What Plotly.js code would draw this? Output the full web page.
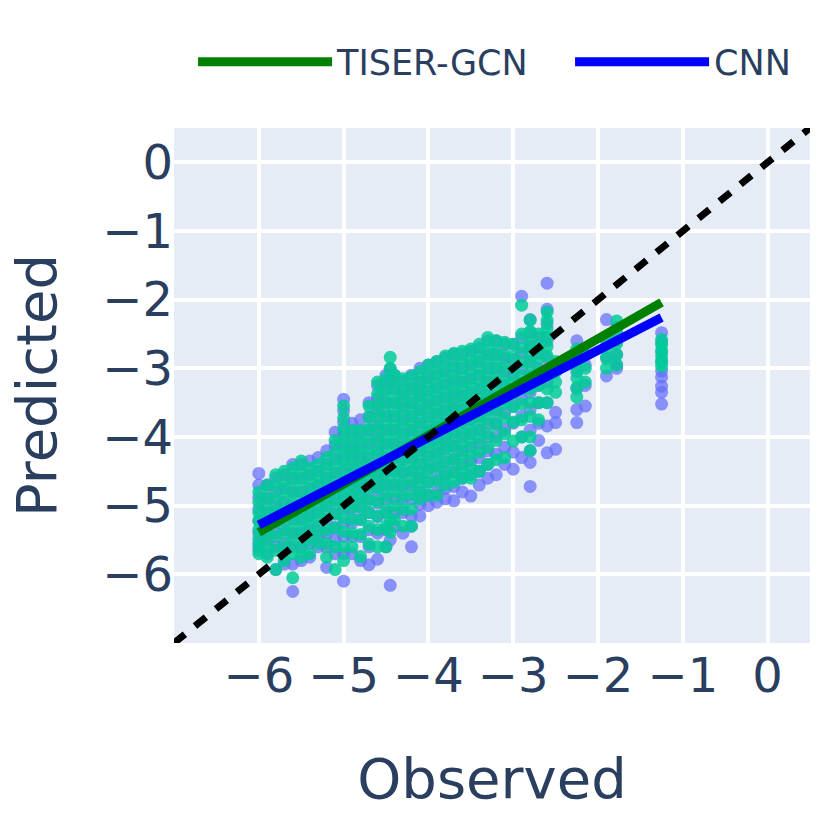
<!DOCTYPE html>
<html>
<head>
<meta charset="utf-8">
<script src="https://cdn.plot.ly/plotly-3.0.1.min.js"></script>
<style>
html,body{margin:0;padding:0;background:#ffffff;}
#chart{width:831px;height:831px;}
</style>
</head>
<body>
<div id="chart"></div>
<script>
// Observed values (x) of the columns of points
const observedCols = [-6.0, -5.9, -5.8, -5.7, -5.6, -5.5, -5.4, -5.3, -5.2, -5.1,
  -5.0, -4.9, -4.8, -4.7, -4.6, -4.5, -4.45, -4.4, -4.3, -4.2,
  -4.1, -4.0, -3.9, -3.8, -3.7, -3.6, -3.5, -3.4, -3.3, -3.2,
  -3.1, -3.0, -2.9, -2.8, -2.7, -2.6, -2.5, -2.25, -2.15, -1.9,
  -1.78, -1.25];

// TISER-GCN predictions, one list per observed column
const tiserPredCols = [
  [-4.8, -4.95, -5.1, -5.22, -5.35, -5.48, -5.6, -5.7],
  [-4.7, -4.88, -5.05, -5.22, -5.4, -5.58, -5.75],
  [-4.55, -4.72, -4.9, -5.08, -5.25, -5.45, -5.65, -5.93],
  [-4.5, -4.68, -4.86, -5.04, -5.22, -5.4, -5.6, -5.8],
  [-4.45, -4.62, -4.8, -4.98, -5.16, -5.34, -5.52, -5.7, -6.05],
  [-4.35, -4.52, -4.7, -4.88, -5.06, -5.24, -5.42, -5.6, -5.75],
  [-4.45, -4.62, -4.8, -4.98, -5.15, -5.32, -5.5, -5.7],
  [-4.4, -4.56, -4.72, -4.88, -5.04, -5.2, -5.38, -5.55],
  [-4.3, -4.47, -4.64, -4.81, -4.98, -5.15, -5.35, -5.55, -5.75],
  [-4.05, -4.22, -4.4, -4.58, -4.76, -4.94, -5.12, -5.32, -5.6, -5.93],
  [-3.55, -3.72, -3.88, -4.04, -4.2, -4.36, -4.52, -4.68, -4.84, -5.0, -5.18, -5.38, -5.6, -5.8],
  [-3.9, -4.06, -4.22, -4.38, -4.54, -4.7, -4.86, -5.02, -5.2, -5.4, -5.6],
  [-3.9, -4.06, -4.22, -4.38, -4.54, -4.7, -4.86, -5.02, -5.2, -5.42, -5.74],
  [-3.55, -3.72, -3.89, -4.06, -4.23, -4.4, -4.57, -4.74, -4.92, -5.1, -5.3, -5.56],
  [-3.2, -3.37, -3.54, -3.71, -3.88, -4.05, -4.22, -4.39, -4.56, -4.74, -4.94, -5.15, -5.35, -5.6],
  [-3.15, -3.32, -3.49, -3.66, -3.83, -4.0, -4.17, -4.34, -4.51, -4.68, -4.86, -5.06, -5.3, -5.6],
  [-2.84, -3.0, -5.2, -5.39],
  [-3.1, -3.27, -3.44, -3.61, -3.78, -3.95, -4.12, -4.29, -4.46, -4.63, -4.8, -5.0, -5.2],
  [-3.15, -3.32, -3.49, -3.66, -3.83, -4.0, -4.17, -4.34, -4.51, -4.68, -4.86, -5.05, -5.3],
  [-3.12, -3.29, -3.46, -3.63, -3.8, -3.97, -4.14, -4.31, -4.48, -4.65, -4.84, -5.05, -5.3],
  [-3.05, -3.22, -3.39, -3.56, -3.73, -3.9, -4.07, -4.24, -4.41, -4.58, -4.75, -4.9],
  [-2.95, -3.12, -3.29, -3.46, -3.63, -3.8, -3.97, -4.14, -4.31, -4.48, -4.66, -4.85],
  [-2.9, -3.07, -3.24, -3.41, -3.58, -3.75, -3.92, -4.09, -4.26, -4.44, -4.64, -4.85],
  [-2.82, -2.99, -3.16, -3.33, -3.5, -3.67, -3.84, -4.01, -4.18, -4.36, -4.54, -4.7],
  [-2.78, -2.95, -3.12, -3.29, -3.46, -3.63, -3.8, -3.97, -4.14, -4.32, -4.5, -4.65],
  [-2.75, -2.92, -3.09, -3.26, -3.43, -3.6, -3.77, -3.94, -4.11, -4.28, -4.45, -4.6],
  [-2.72, -2.89, -3.06, -3.23, -3.4, -3.57, -3.74, -3.91, -4.08, -4.26, -4.44, -4.6],
  [-2.65, -2.82, -2.99, -3.16, -3.33, -3.5, -3.67, -3.84, -4.02, -4.22, -4.5],
  [-2.55, -2.72, -2.89, -3.06, -3.23, -3.4, -3.57, -3.75, -3.95, -4.15, -4.4],
  [-2.6, -2.77, -2.94, -3.11, -3.28, -3.45, -3.63, -3.82, -4.05, -4.33],
  [-2.62, -2.8, -2.98, -3.16, -3.34, -3.52, -3.72, -3.95, -4.3],
  [-2.65, -2.83, -3.01, -3.19, -3.37, -3.56, -3.78, -4.06],
  [-2.08, -2.5, -2.7, -2.9, -3.1, -3.3, -3.52, -3.75, -4.0],
  [-2.3, -2.46, -2.62, -2.78, -2.95, -3.12, -3.3, -3.5, -3.7, -4.0, -4.2],
  [-2.5, -2.68, -2.86, -3.05, -3.25, -3.5, -3.75],
  [-2.18, -2.3, -2.42, -2.55, -2.68, -2.82, -3.1, -3.3, -3.5],
  [-2.9, -3.05, -3.2, -3.35],
  [-2.72, -2.86, -3.0, -3.14, -3.28, -3.42],
  [-2.8, -3.0, -3.2],
  [-2.55, -2.7, -2.85, -3.0],
  [-2.31, -2.48, -2.64, -2.8, -2.95],
  [-2.58, -2.66, -2.74, -2.82, -2.9, -2.97]
];

// CNN predictions, one list per observed column
const cnnPredCols = [
  [-4.53, -4.7, -4.88, -5.05, -5.22, -5.4, -5.55, -5.65],
  [-4.7, -4.9, -5.1, -5.3, -5.5, -5.7],
  [-4.6, -4.8, -5.0, -5.2, -5.4, -5.6, -5.93],
  [-4.55, -4.75, -4.95, -5.15, -5.35, -5.55, -5.85],
  [-4.4, -4.6, -4.8, -5.0, -5.2, -5.4, -5.6, -5.85, -6.25],
  [-4.4, -4.6, -4.8, -5.0, -5.2, -5.4, -5.6, -5.8],
  [-4.35, -4.55, -4.75, -4.95, -5.15, -5.35, -5.55, -5.75],
  [-4.3, -4.5, -4.7, -4.9, -5.1, -5.3, -5.45, -5.6],
  [-4.2, -4.4, -4.6, -4.8, -5.0, -5.2, -5.4, -5.6, -5.9],
  [-3.93, -4.12, -4.32, -4.52, -4.72, -4.92, -5.12, -5.32, -5.5, -5.7],
  [-3.45, -3.62, -3.79, -3.96, -4.14, -4.32, -4.5, -4.68, -4.86, -5.05, -5.25, -5.45, -5.7, -6.1],
  [-3.8, -3.98, -4.16, -4.34, -4.52, -4.7, -4.88, -5.06, -5.25, -5.45, -5.7],
  [-3.75, -3.93, -4.11, -4.29, -4.47, -4.65, -4.83, -5.01, -5.2, -5.45, -5.8],
  [-3.5, -3.7, -3.9, -4.1, -4.3, -4.5, -4.7, -4.9, -5.1, -5.35, -5.6, -5.86],
  [-3.25, -3.44, -3.63, -3.82, -4.01, -4.2, -4.39, -4.58, -4.77, -4.96, -5.16, -5.4, -5.78],
  [-3.1, -3.3, -3.5, -3.7, -3.9, -4.1, -4.3, -4.5, -4.7, -4.9, -5.1, -5.35, -5.6],
  [-3.01, -3.18, -5.5, -6.16],
  [-3.1, -3.3, -3.5, -3.7, -3.9, -4.1, -4.3, -4.5, -4.7, -4.9, -5.1, -5.3],
  [-3.19, -3.38, -3.57, -3.76, -3.95, -4.14, -4.33, -4.52, -4.71, -4.9, -5.1, -5.4],
  [-3.1, -3.3, -3.5, -3.7, -3.9, -4.1, -4.3, -4.5, -4.7, -4.9, -5.15, -5.3, -5.6],
  [-3.0, -3.2, -3.4, -3.6, -3.8, -4.0, -4.2, -4.4, -4.6, -4.8, -4.98, -5.15],
  [-2.95, -3.14, -3.33, -3.52, -3.71, -3.9, -4.09, -4.28, -4.47, -4.66, -4.85, -5.0],
  [-2.9, -3.09, -3.28, -3.47, -3.66, -3.85, -4.04, -4.23, -4.42, -4.61, -4.8, -4.95],
  [-2.85, -3.04, -3.23, -3.42, -3.61, -3.8, -3.99, -4.18, -4.37, -4.56, -4.75, -4.9],
  [-2.8, -2.99, -3.18, -3.37, -3.56, -3.75, -3.94, -4.13, -4.32, -4.51, -4.72, -4.93],
  [-2.8, -3.0, -3.2, -3.4, -3.6, -3.8, -4.0, -4.2, -4.4, -4.6, -4.8],
  [-2.75, -2.95, -3.15, -3.35, -3.55, -3.75, -3.95, -4.15, -4.35, -4.55, -4.86],
  [-2.7, -2.9, -3.1, -3.3, -3.5, -3.7, -3.9, -4.1, -4.3, -4.5, -4.7],
  [-2.6, -2.8, -3.0, -3.2, -3.4, -3.6, -3.8, -4.0, -4.2, -4.4, -4.6],
  [-2.6, -2.8, -3.0, -3.2, -3.4, -3.6, -3.8, -4.0, -4.25, -4.55],
  [-2.65, -2.85, -3.05, -3.25, -3.45, -3.65, -3.9, -4.15, -4.4],
  [-2.65, -2.88, -3.1, -3.32, -3.55, -3.8, -4.22, -4.47],
  [-1.95, -2.55, -2.78, -3.0, -3.22, -3.45, -3.7, -4.0, -4.3],
  [-2.29, -2.48, -2.68, -2.9, -3.12, -3.35, -3.6, -3.9, -4.2, -4.37, -4.72],
  [-2.55, -2.78, -3.0, -3.25, -3.5, -3.8, -4.05],
  [-1.76, -2.14, -2.35, -2.6, -2.85, -3.2, -3.5, -3.84, -4.23],
  [-3.0, -3.64, -3.79, -4.18],
  [-2.6, -2.82, -3.05, -3.3, -3.6, -3.79],
  [-2.95, -3.25, -3.55],
  [-2.29, -2.6, -2.85, -3.11],
  [-2.4, -2.6, -2.8, -2.95, -3.0],
  [-2.48, -2.62, -2.76, -2.9, -3.04, -3.13, -3.26, -3.35, -3.52]
];

// Fitted regression lines (end points)
const fitX = [-6.0, -1.25];
const tiserFitY = [-5.39, -2.04];
const cnnFitY = [-5.28, -2.26];
// Identity (y = x) reference line
const identityXY = [-7, 0.5];
// Axis ticks
const tickValues = [-6, -5, -4, -3, -2, -1, 0];
const axisRange = [-7, 0.5];

function flattenColumns(cols, preds) {
  const xs = [], ys = [];
  cols.forEach(function (x, i) {
    preds[i].forEach(function (v) { xs.push(x); ys.push(v); });
  });
  return {xs: xs, ys: ys};
}

const cnnPts = flattenColumns(observedCols, cnnPredCols);
const tiserPts = flattenColumns(observedCols, tiserPredCols);

const traces = [
  {
    type: 'scatter', mode: 'markers', x: cnnPts.xs, y: cnnPts.ys,
    marker: {color: '#636efa', size: 13, opacity: 0.72},
    showlegend: false, hoverinfo: 'skip'
  },
  {
    type: 'scatter', mode: 'markers', x: tiserPts.xs, y: tiserPts.ys,
    marker: {color: '#00cc96', size: 13, opacity: 0.84},
    showlegend: false, hoverinfo: 'skip'
  },
  {
    type: 'scatter', mode: 'lines', x: fitX, y: tiserFitY, name: 'TISER-GCN',
    legendwidth: 228,
    line: {color: 'green', width: 9}
  },
  {
    type: 'scatter', mode: 'lines', x: fitX, y: cnnFitY, name: 'CNN',
    line: {color: 'blue', width: 9}
  },
  {
    type: 'scatter', mode: 'lines', x: identityXY, y: identityXY,
    line: {color: 'black', width: 7, dash: '14px,13px'},
    showlegend: false, hoverinfo: 'skip'
  }
];

const fontFamily = 'DejaVu Sans, Verdana, sans-serif';
const axisCommon = {
  range: axisRange,
  tickvals: tickValues,
  gridcolor: 'white',
  gridwidth: 4,
  zeroline: false,
  showline: false,
  ticks: '',
  tickfont: {size: 48, color: '#2a3f5f', family: fontFamily},
  automargin: false
};

const layout = {
  width: 831, height: 831,
  margin: {l: 174, r: 21, t: 128, b: 188, autoexpand: false},
  paper_bgcolor: '#ffffff',
  plot_bgcolor: '#e5ecf6',
  font: {family: fontFamily, size: 48, color: '#2a3f5f'},
  showlegend: true,
  legend: {
    orientation: 'h', x: 0.03, xanchor: 'left', y: 1.128, yanchor: 'middle',
    font: {size: 35, family: fontFamily, color: '#2a3f5f'},
    itemwidth: 134,
    bgcolor: 'rgba(0,0,0,0)'
  },
  xaxis: Object.assign({}, axisCommon, {title: {text: 'Observed', standoff: 56, font: {size: 56, family: fontFamily, color: '#2a3f5f'}}}),
  yaxis: Object.assign({}, axisCommon, {title: {text: 'Predicted', standoff: 27, font: {size: 56, family: fontFamily, color: '#2a3f5f'}}})
};

Plotly.newPlot('chart', traces, layout, {staticPlot: true, displayModeBar: false});
</script>
</body>
</html>
